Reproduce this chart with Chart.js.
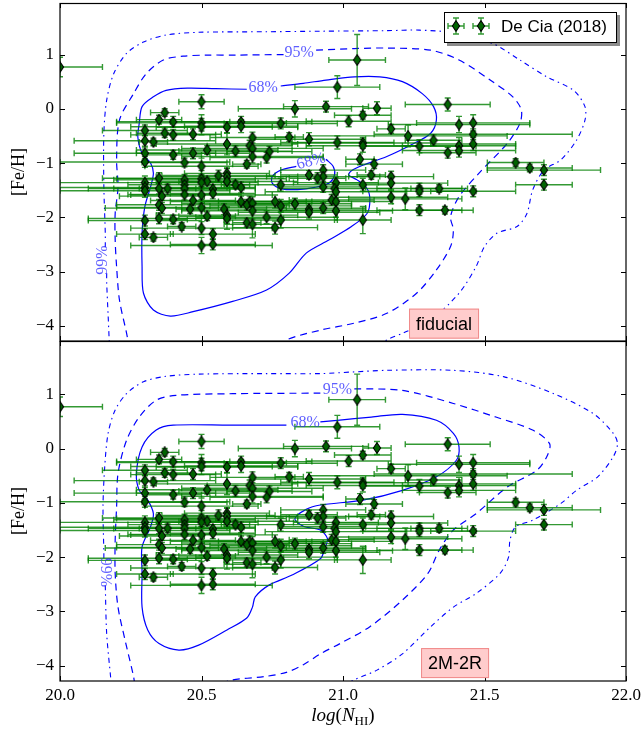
<!DOCTYPE html>
<html>
<head>
<meta charset="utf-8">
<title>[Fe/H] vs log N(HI)</title>
<script src="https://cdn.jsdelivr.net/npm/chart.js@4.4.1/dist/chart.umd.min.js"></script>
<style>
  html, body { margin: 0; padding: 0; background: #fff; }
  #page { position: relative; width: 643px; height: 729px; overflow: hidden; }
  #page canvas { position: absolute; left: 0; }
  #topPanel { top: 0; }
  #bottomPanel { top: 341px; }
</style>
</head>
<body>
<div id="page">
  <canvas id="topPanel" width="643" height="342"></canvas>
  <canvas id="bottomPanel" width="643" height="388"></canvas>
</div>
<script>
// Axis ticks and limits
const xTicks = [20.0, 20.5, 21.0, 21.5, 22.0];
const yTicks = [-4, -3, -2, -1, 0, 1];
const xLimits = [20.0, 22.0];
const yLimitsTop = [-4.28, 1.95];
const yLimitsBottom = [-4.28, 1.98];

// De Cia (2018) measurements: log N(HI), [Fe/H] and their errors
const nhi = [
  20.00, 20.50, 20.83, 20.37, 20.35, 20.40, 20.50, 20.50, 20.64, 20.64,
  20.59, 20.78, 20.30, 20.37, 20.40, 20.47, 20.81, 20.68, 20.88, 20.30,
  20.33, 20.59, 20.67, 20.68, 20.52, 20.62, 20.74, 20.47, 20.30, 20.40,
  20.68, 20.73, 20.30, 20.44, 20.66, 20.50, 20.56, 20.59, 20.59, 20.35,
  20.50, 20.44, 20.52, 20.50, 20.59, 20.30, 20.62, 20.44, 20.78, 20.30,
  20.35, 20.38, 20.44, 20.54, 20.64, 20.30, 20.54, 20.44, 20.50, 20.36,
  20.47, 20.64, 20.67, 20.76, 20.83, 20.66, 20.68, 20.35, 20.78, 20.50,
  20.36, 20.46, 20.58, 20.68, 20.88, 20.88, 20.52, 20.59, 20.59, 20.35,
  20.40, 20.73, 20.78, 20.30, 20.66, 20.68, 20.43, 20.50, 20.76, 20.30,
  20.54, 20.33, 20.50, 20.54,
  21.05, 20.98, 20.94, 21.37, 21.12, 21.07, 21.02, 21.41, 21.46, 21.17,
  21.23, 21.46, 20.98, 21.07, 21.07, 21.27, 21.32, 21.41, 21.46, 21.41,
  21.37, 21.06, 21.11, 21.61, 21.66, 21.71, 21.71, 20.93, 20.93, 21.10,
  21.17, 21.17, 21.07, 20.975, 20.97, 20.975, 21.27, 21.27, 21.34, 21.46,
  21.17, 21.22, 20.96, 20.975, 20.975, 20.93, 21.27, 21.36, 21.07,
  20.88, 20.91, 20.93
];
const feh = [
  0.77, 0.13, 0.00, -0.07, -0.20, -0.24, -0.26, -0.33, -0.24, -0.32,
  -0.34, -0.27, -0.40, -0.45, -0.48, -0.47, -0.52, -0.53, -0.56, -0.59,
  -0.61, -0.65, -0.68, -0.73, -0.76, -0.78, -0.79, -0.82, -0.82, -0.85,
  -0.88, -0.90, -0.98, -0.99, -1.02, -1.06, -1.23, -1.19, -1.25, -1.28,
  -1.29, -1.31, -1.34, -1.36, -1.34, -1.36, -1.40, -1.40, -1.40, -1.45,
  -1.47, -1.47, -1.47, -1.48, -1.45, -1.51, -1.56, -1.58, -1.59, -1.61,
  -1.69, -1.71, -1.71, -1.71, -1.75, -1.77, -1.74, -1.77, -1.79, -1.82,
  -1.83, -1.85, -1.85, -1.88, -1.85, -1.91, -1.98, -1.96, -2.02, -2.02,
  -2.04, -2.00, -2.05, -2.06, -2.10, -2.13, -2.17, -2.20, -2.19, -2.31,
  -2.31, -2.37, -2.52, -2.50,
  0.90, 0.40, 0.04, 0.08, 0.01, -0.12, -0.23, -0.29, -0.26, -0.37,
  -0.50, -0.47, -0.62, -0.63, -0.68, -0.69, -0.58, -0.68, -0.65, -0.77,
  -0.81, -0.93, -1.02, -0.99, -1.09, -1.13, -1.40, -1.13, -1.25, -1.22,
  -1.25, -1.37, -1.40, -1.36, -1.47, -1.53, -1.47, -1.52, -1.47, -1.52,
  -1.63, -1.66, -1.68, -1.71, -1.88, -1.83, -1.87, -1.87, -2.05,
  -1.22, -1.28, -1.44
];
const nhiErr = [
  0.15, 0.08, 0.20, 0.05, 0.08, 0.20, 0.30, 0.25, 0.25, 0.20,
  0.25, 0.20, 0.15, 0.10, 0.15, 0.10, 0.05, 0.15, 0.20, 0.25,
  0.05, 0.25, 0.15, 0.25, 0.25, 0.20, 0.15, 0.20, 0.25, 0.10,
  0.25, 0.20, 0.30, 0.15, 0.05, 0.20, 0.20, 0.15, 0.25, 0.20,
  0.30, 0.25, 0.10, 0.20, 0.25, 0.30, 0.05, 0.20, 0.20, 0.35,
  0.25, 0.10, 0.25, 0.10, 0.05, 0.30, 0.15, 0.20, 0.25, 0.15,
  0.15, 0.25, 0.20, 0.20, 0.20, 0.15, 0.25, 0.15, 0.25, 0.30,
  0.20, 0.05, 0.15, 0.25, 0.20, 0.25, 0.10, 0.25, 0.20, 0.25,
  0.05, 0.25, 0.20, 0.20, 0.05, 0.10, 0.05, 0.25, 0.15, 0.10,
  0.15, 0.05, 0.25, 0.15,
  0.10, 0.15, 0.15, 0.15, 0.05, 0.10, 0.15, 0.25, 0.20, 0.05,
  0.35, 0.35, 0.20, 0.25, 0.20, 0.20, 0.10, 0.20, 0.15, 0.20,
  0.10, 0.05, 0.10, 0.10, 0.15, 0.20, 0.10, 0.15, 0.20, 0.05,
  0.15, 0.20, 0.10, 0.15, 0.20, 0.25, 0.15, 0.20, 0.10, 0.15,
  0.20, 0.20, 0.15, 0.20, 0.20, 0.15, 0.15, 0.10, 0.10,
  0.10, 0.10, 0.15
];
const fehErr = [
  0.18, 0.13, 0.15, 0.07, 0.08, 0.10, 0.15, 0.15, 0.10, 0.12,
  0.10, 0.10, 0.10, 0.08, 0.10, 0.10, 0.08, 0.10, 0.12, 0.10,
  0.07, 0.20, 0.10, 0.15, 0.08, 0.10, 0.10, 0.10, 0.10, 0.08,
  0.12, 0.10, 0.10, 0.08, 0.07, 0.15, 0.10, 0.10, 0.15, 0.10,
  0.15, 0.10, 0.08, 0.12, 0.10, 0.12, 0.07, 0.10, 0.12, 0.10,
  0.10, 0.08, 0.10, 0.08, 0.10, 0.12, 0.10, 0.10, 0.15, 0.08,
  0.10, 0.10, 0.10, 0.12, 0.10, 0.10, 0.12, 0.10, 0.12, 0.15,
  0.10, 0.08, 0.10, 0.15, 0.10, 0.12, 0.08, 0.15, 0.20, 0.10,
  0.08, 0.12, 0.15, 0.10, 0.08, 0.25, 0.07, 0.12, 0.12, 0.10,
  0.10, 0.07, 0.15, 0.10,
  0.47, 0.21, 0.10, 0.12, 0.12, 0.07, 0.10, 0.15, 0.15, 0.08,
  0.20, 0.10, 0.12, 0.10, 0.12, 0.12, 0.10, 0.15, 0.12, 0.12,
  0.10, 0.10, 0.08, 0.07, 0.07, 0.10, 0.10, 0.10, 0.12, 0.08,
  0.10, 0.12, 0.12, 0.10, 0.10, 0.12, 0.10, 0.10, 0.07, 0.10,
  0.12, 0.20, 0.10, 0.12, 0.12, 0.10, 0.10, 0.07, 0.25,
  0.08, 0.10, 0.10
];

// Contour paths [log N(HI), [Fe/H]] (fiducial panel)
const fid68 = [
  [20.78, 0.42], [20.86, 0.47], [20.94, 0.53], [21.04, 0.59], [21.13, 0.59], [21.21, 0.50],
  [21.28, 0.28], [21.32, 0.04], [21.33, -0.21], [21.31, -0.45], [21.25, -0.64], [21.155, -0.88],
  [21.07, -1.04], [21.03, -1.14], [21.02, -1.22], [21.05, -1.31], [21.085, -1.47], [21.095, -1.68],
  [21.085, -1.93], [21.03, -2.17], [20.95, -2.42], [20.87, -2.66], [20.81, -3.03], [20.73, -3.34],
  [20.61, -3.55], [20.47, -3.74], [20.39, -3.82], [20.33, -3.71], [20.295, -3.40], [20.29, -2.91],
  [20.29, -2.29], [20.30, -1.80], [20.32, -1.44], [20.33, -1.19], [20.32, -1.00], [20.29, -0.82],
  [20.275, -0.52], [20.28, -0.27], [20.29, 0.04], [20.33, 0.22], [20.375, 0.34], [20.45, 0.38],
  [20.55, 0.37], [20.66, 0.36]
];
const fid68Island = [
  [20.94, -0.93], [20.965, -1.06], [20.97, -1.22], [20.95, -1.37], [20.90, -1.45], [20.84, -1.49],
  [20.78, -1.47], [20.75, -1.37], [20.75, -1.25], [20.78, -1.13], [20.835, -1.06]
];
const fid95Left = [
  [20.79, 1.00], [20.62, 0.99], [20.52, 0.99], [20.435, 0.97], [20.365, 0.90], [20.305, 0.65],
  [20.26, 0.28], [20.21, -0.21], [20.20, -0.94], [20.205, -1.44], [20.195, -1.93], [20.195, -2.42],
  [20.20, -2.91], [20.21, -3.52], [20.235, -4.13], [20.245, -4.40]
];
const fid95Right = [
  [20.905, 1.08], [21.04, 1.11], [21.155, 1.12], [21.31, 1.08], [21.41, 0.90], [21.52, 0.53],
  [21.60, 0.22], [21.63, -0.02], [21.625, -0.27], [21.58, -0.64], [21.48, -1.19], [21.41, -1.62],
  [21.38, -1.99], [21.39, -2.23], [21.38, -2.54], [21.33, -2.97], [21.26, -3.40], [21.155, -3.77],
  [21.04, -3.95], [20.92, -4.08], [20.80, -4.26], [20.78, -4.40]
];
const fid99 = [
  [20.16, -2.55], [20.16, -2.29], [20.155, -1.44], [20.155, -0.45], [20.165, 0.16], [20.19, 0.65],
  [20.235, 1.02], [20.295, 1.23], [20.375, 1.36], [20.49, 1.41], [20.73, 1.42], [20.92, 1.43],
  [21.155, 1.44], [21.27, 1.45], [21.41, 1.39], [21.53, 1.20], [21.625, 0.90], [21.72, 0.59],
  [21.815, 0.34], [21.855, 0.04], [21.855, -0.21], [21.825, -0.58], [21.77, -0.94], [21.71, -1.13],
  [21.67, -1.50], [21.65, -1.93], [21.615, -2.17], [21.545, -2.29], [21.50, -2.54], [21.47, -2.91],
  [21.41, -3.40], [21.31, -3.89], [21.21, -4.14], [21.155, -4.26], [21.12, -4.40]
];
const fid99Tail = [[20.165, -3.03], [20.165, -3.20], [20.17, -3.80], [20.175, -4.40]];

// Contour paths for the 2M-2R panel
const m2r68 = [
  [20.92, 0.49], [20.98, 0.52], [21.10, 0.58], [21.21, 0.63], [21.33, 0.52], [21.39, 0.28],
  [21.41, 0.03], [21.40, -0.22], [21.33, -0.52], [21.21, -0.77], [21.07, -0.95], [20.92, -1.04],
  [20.87, -1.12], [20.83, -1.29], [20.86, -1.43], [20.92, -1.50], [20.945, -1.66], [20.935, -1.85],
  [20.92, -2.03], [20.82, -2.33], [20.74, -2.51], [20.69, -2.73], [20.68, -2.92], [20.66, -3.12],
  [20.59, -3.34], [20.49, -3.62], [20.42, -3.71], [20.35, -3.59], [20.31, -3.34], [20.29, -2.92],
  [20.29, -2.30], [20.29, -1.81], [20.32, -1.44], [20.33, -1.20], [20.31, -0.95], [20.28, -0.77],
  [20.27, -0.46], [20.29, 0.03], [20.34, 0.34], [20.40, 0.43], [20.60, 0.43], [20.80, 0.43]
];
const m2r95Left = [
  [20.92, 1.02], [20.61, 1.01], [20.41, 0.98], [20.34, 0.89], [20.28, 0.58], [20.235, 0.15],
  [20.205, -0.46], [20.20, -1.07], [20.195, -1.69], [20.195, -2.30], [20.205, -2.92], [20.23, -3.53],
  [20.26, -4.20], [20.265, -4.40]
];
const m2r95Right = [
  [21.04, 1.10], [21.21, 1.07], [21.39, 0.83], [21.54, 0.58], [21.67, 0.34], [21.73, 0.09],
  [21.72, -0.15], [21.685, -0.40], [21.58, -0.71], [21.47, -1.20], [21.39, -1.50], [21.34, -1.87],
  [21.30, -2.30], [21.21, -2.79], [21.095, -3.28], [20.99, -3.59], [20.92, -3.78], [20.86, -3.98],
  [20.80, -4.12], [20.72, -4.20], [20.60, -4.27], [20.55, -4.40]
];
const m2r99 = [
  [20.155, -2.02], [20.155, -1.93], [20.152, -1.07], [20.158, -0.34], [20.17, 0.28], [20.195, 0.71],
  [20.235, 1.01], [20.295, 1.23], [20.375, 1.33], [20.49, 1.37], [20.73, 1.38], [20.92, 1.38],
  [21.035, 1.41], [21.155, 1.44], [21.39, 1.44], [21.57, 1.32], [21.745, 1.01], [21.885, 0.64],
  [21.955, 0.28], [21.97, 0.09], [21.955, -0.15], [21.90, -0.52], [21.825, -0.77], [21.77, -1.01],
  [21.67, -1.32], [21.61, -1.44], [21.59, -1.69], [21.585, -2.00], [21.555, -2.30], [21.47, -2.67],
  [21.39, -2.92], [21.31, -3.28], [21.21, -3.78], [21.12, -4.08], [21.035, -4.27], [21.00, -4.40]
];
const m2r99Tail = [[20.16, -2.52], [20.165, -3.41], [20.18, -4.27], [20.182, -4.40]];

const SERIF = '"Liberation Serif", "DejaVu Serif", serif';
const SANS = '"Liberation Sans", Arial, sans-serif';
const LABEL_BLUE = 'rgba(40,40,255,0.75)';
const BAR_GREEN = 'rgba(0,128,0,0.8)';

// thin diamond marker like matplotlib's 'd'
const diamond = (() => {
    const c = document.createElement('canvas');
    c.width = 10;
    c.height = 12;
    const g = c.getContext('2d');
    g.beginPath();
    g.moveTo(5, 0.7);
    g.lineTo(8.6, 6);
    g.lineTo(5, 11.3);
    g.lineTo(1.4, 6);
    g.closePath();
    g.fillStyle = '#006400';
    g.fill();
    g.lineWidth = 1.1;
    g.strokeStyle = '#000';
    g.stroke();
    return c;
})();

const minus = v => (v < 0 ? '\u2212' + Math.abs(v) : String(v));

function contourSet(path, dash, width) {
    return {
        label: 'contour',
        data: path.map(([x, y]) => ({ x, y })),
        showLine: true,
        pointRadius: 0,
        borderColor: '#0000ff',
        borderWidth: width,
        borderDash: dash,
        tension: 0.3,
        fill: false,
        clip: 0,
        order: 2
    };
}

function drawErrorBar(ctx, px, x0, x1, py, y0, y1, cap) {
    ctx.beginPath();
    ctx.moveTo(x0, py); ctx.lineTo(x1, py);
    ctx.moveTo(px, y0); ctx.lineTo(px, y1);
    ctx.moveTo(x0, py - cap); ctx.lineTo(x0, py + cap);
    ctx.moveTo(x1, py - cap); ctx.lineTo(x1, py + cap);
    ctx.moveTo(px - cap, y0); ctx.lineTo(px + cap, y0);
    ctx.moveTo(px - cap, y1); ctx.lineTo(px + cap, y1);
    ctx.stroke();
}

// error bars go under the diamonds but above the contours
const errorBars = {
    id: 'errorBars',
    beforeDatasetDraw(chart, args) {
        if (chart.data.datasets[args.index].label !== 'De Cia (2018)') return;
        const { ctx, chartArea: a, scales: { x, y } } = chart;
        ctx.save();
        ctx.beginPath();
        ctx.rect(a.left, a.top, a.right - a.left, a.bottom - a.top);
        ctx.clip();
        ctx.strokeStyle = BAR_GREEN;
        ctx.lineWidth = 1.4;
        nhi.forEach((v, i) => {
            drawErrorBar(ctx,
                x.getPixelForValue(v),
                x.getPixelForValue(v - nhiErr[i]), x.getPixelForValue(v + nhiErr[i]),
                y.getPixelForValue(feh[i]),
                y.getPixelForValue(feh[i] - fehErr[i]), y.getPixelForValue(feh[i] + fehErr[i]),
                3);
        });
        ctx.restore();
    }
};

// frame, inward ticks, contour labels, tag box, legend, x title
const panelDecor = {
    id: 'panelDecor',
    afterDraw(chart, args, opts) {
        const { ctx, chartArea: a, scales: { x, y } } = chart;
        ctx.save();

        // contour labels
        ctx.font = '16px ' + SERIF;
        ctx.fillStyle = LABEL_BLUE;
        ctx.textAlign = 'center';
        ctx.textBaseline = 'middle';
        opts.labels.forEach(l => {
            ctx.save();
            ctx.translate(x.getPixelForValue(l.x), y.getPixelForValue(l.y));
            ctx.rotate(l.rot * Math.PI / 180);
            ctx.fillText(l.text, 0, 0);
            ctx.restore();
        });

        // frame and ticks
        ctx.strokeStyle = '#000';
        ctx.lineWidth = 1.2;
        ctx.strokeRect(a.left, a.top + 0.5, a.right - a.left, a.bottom - a.top - 0.5);
        ctx.lineWidth = 1;
        ctx.beginPath();
        xTicks.forEach(t => {
            const px = Math.round(x.getPixelForValue(t)) + 0.5;
            ctx.moveTo(px, a.top); ctx.lineTo(px, a.top + 5);
            ctx.moveTo(px, a.bottom); ctx.lineTo(px, a.bottom - 5);
        });
        yTicks.forEach(t => {
            const py = Math.round(y.getPixelForValue(t)) + 0.5;
            ctx.moveTo(a.left, py); ctx.lineTo(a.left + 5, py);
            ctx.moveTo(a.right, py); ctx.lineTo(a.right - 5, py);
        });
        ctx.stroke();

        // pink tag
        ctx.font = '18px ' + SANS;
        const tw = ctx.measureText(opts.tag.text).width + 14;
        const th = 30;
        const tx = x.getPixelForValue(opts.tag.x), ty = y.getPixelForValue(opts.tag.y);
        ctx.fillStyle = '#ffcccc';
        ctx.fillRect(tx - tw / 2, ty - th / 2, tw, th);
        ctx.strokeStyle = '#f08a8a';
        ctx.strokeRect(tx - tw / 2 + 0.5, ty - th / 2 + 0.5, tw - 1, th - 1);
        ctx.fillStyle = '#000';
        ctx.textAlign = 'center';
        ctx.fillText(opts.tag.text, tx, ty + 1);

        // legend
        if (opts.legend) {
            const w = 173, h = 31;
            const lx = a.right - 9 - w, ly = a.top + 9;
            ctx.fillStyle = 'rgba(0,0,0,0.45)';
            ctx.fillRect(lx + 3, ly + 3, w, h);
            ctx.fillStyle = '#fff';
            ctx.fillRect(lx, ly, w, h);
            ctx.strokeStyle = '#000';
            ctx.lineWidth = 1;
            ctx.strokeRect(lx + 0.5, ly + 0.5, w - 1, h - 1);
            ctx.strokeStyle = BAR_GREEN;
            ctx.lineWidth = 1.4;
            [lx + 12, lx + 37].forEach(mx => {
                const my = ly + 14;
                drawErrorBar(ctx, mx, mx - 8, mx + 8, my, my - 8, my + 8, 3);
                ctx.drawImage(diamond, mx - diamond.width / 2, my - diamond.height / 2);
            });
            ctx.fillStyle = '#000';
            ctx.font = '17px ' + SANS;
            ctx.textAlign = 'left';
            ctx.fillText(chart.data.datasets[0].label, lx + 57, ly + 15);
        }

        // x axis title log(N_HI)
        if (opts.xTitle) {
            const parts = [
                { t: 'log', f: 'italic 19px ' + SERIF, dy: 0 },
                { t: '(', f: '19px ' + SERIF, dy: 0 },
                { t: 'N', f: 'italic 19px ' + SERIF, dy: 0 },
                { t: 'HI', f: '13px ' + SERIF, dy: 4 },
                { t: ')', f: '19px ' + SERIF, dy: 0 }
            ];
            let total = 0;
            parts.forEach(p => { ctx.font = p.f; p.w = ctx.measureText(p.t).width; total += p.w; });
            let cx = (a.left + a.right) / 2 - total / 2;
            const base = a.bottom + 40;
            ctx.fillStyle = '#000';
            ctx.textAlign = 'left';
            ctx.textBaseline = 'alphabetic';
            parts.forEach(p => { ctx.font = p.f; ctx.fillText(p.t, cx, base + p.dy); cx += p.w; });
        }
        ctx.restore();
    }
};

function makePanel(id, cfg) {
    const datasets = [{
        label: 'De Cia (2018)',
        data: nhi.map((v, i) => ({ x: v, y: feh[i] })),
        pointStyle: diamond,
        pointRadius: 5,
        clip: 0,
        order: 0
    }].concat(cfg.contours);

    return new Chart(document.getElementById(id), {
        type: 'scatter',
        data: { datasets },
        options: {
            responsive: false,
            maintainAspectRatio: false,
            animation: false,
            events: [],
            layout: { padding: cfg.padding, autoPadding: false },
            plugins: {
                legend: { display: false },
                tooltip: { enabled: false },
                panelDecor: cfg.decor
            },
            scales: {
                x: {
                    type: 'linear',
                    min: xLimits[0],
                    max: xLimits[1],
                    display: cfg.showX,
                    grid: { display: false, drawTicks: false },
                    border: { display: false },
                    afterBuildTicks: s => { s.ticks = xTicks.map(v => ({ value: v })); },
                    afterFit: s => {
                        s.height = cfg.showX ? 48 : 0;
                        s.paddingLeft = 0;
                        s.paddingRight = 0;
                    },
                    ticks: {
                        autoSkip: false,
                        maxRotation: 0,
                        padding: 4,
                        color: '#000',
                        font: { family: SERIF, size: 17 },
                        callback: v => v.toFixed(1)
                    }
                },
                y: {
                    type: 'linear',
                    min: cfg.yLimits[0],
                    max: cfg.yLimits[1],
                    grid: { display: false, drawTicks: false },
                    border: { display: false },
                    afterBuildTicks: s => { s.ticks = yTicks.map(v => ({ value: v })); },
                    afterFit: s => { s.width = 60; s.paddingTop = 0; s.paddingBottom = 0; },
                    title: {
                        display: true,
                        text: '[Fe/H]',
                        color: '#000',
                        font: { family: SERIF, size: 18 },
                        padding: { top: 8, bottom: 0 }
                    },
                    ticks: {
                        autoSkip: false,
                        padding: 6,
                        color: '#000',
                        font: { family: SERIF, size: 17 },
                        callback: v => minus(v)
                    }
                }
            }
        },
        plugins: [errorBars, panelDecor]
    });
}

const DASH = [7, 5];
const DASHDOT = [5, 4, 1.5, 4];

makePanel('topPanel', {
    padding: { left: 0, right: 17, top: 3, bottom: 1 },
    showX: false,
    yLimits: yLimitsTop,
    contours: [
        contourSet(fid68, [], 1.2),
        contourSet(fid68Island, [], 1.2),
        contourSet(fid95Left, DASH, 1.2),
        contourSet(fid95Right, DASH, 1.2),
        contourSet(fid99, DASHDOT, 1.1),
        contourSet(fid99Tail, DASHDOT, 1.1)
    ],
    decor: {
        legend: true,
        xTitle: false,
        tag: { text: 'fiducial', x: 21.357, y: -3.96 },
        labels: [
            { text: '68%', x: 20.718, y: 0.38, rot: 0 },
            { text: '68%', x: 20.887, y: -0.97, rot: -15 },
            { text: '95%', x: 20.845, y: 1.04, rot: 0 },
            { text: '99%', x: 20.15, y: -2.79, rot: -90 }
        ]
    }
});

makePanel('bottomPanel', {
    padding: { left: 0, right: 17, top: 0, bottom: 0 },
    showX: true,
    yLimits: yLimitsBottom,
    contours: [
        contourSet(m2r68, [], 1.2),
        contourSet(m2r95Left, DASH, 1.2),
        contourSet(m2r95Right, DASH, 1.2),
        contourSet(m2r99, DASHDOT, 1.1),
        contourSet(m2r99Tail, DASHDOT, 1.1)
    ],
    decor: {
        legend: false,
        xTitle: true,
        tag: { text: '2M-2R', x: 21.396, y: -3.95 },
        labels: [
            { text: '68%', x: 20.866, y: 0.48, rot: 0 },
            { text: '95%', x: 20.98, y: 1.09, rot: 0 },
            { text: '99%', x: 20.158, y: -2.28, rot: 90 }
        ]
    }
});
</script>
</body>
</html>
